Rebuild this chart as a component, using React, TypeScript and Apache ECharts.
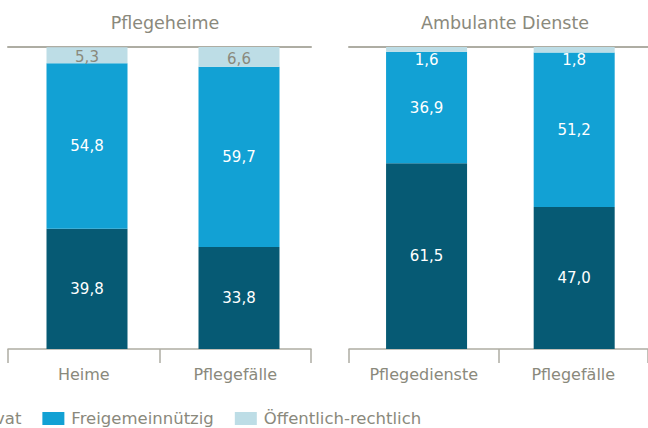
import React, { useEffect, useRef } from "react";
import * as echarts from "echarts";

const titles = ["Pflegeheime", "Ambulante Dienste"];
const categoriesHeime = ["Heime", "Pflegefälle"];
const categoriesAmbulant = ["Pflegedienste", "Pflegefälle"];
const seriesNames = ["Privat", "Freigemeinnützig", "Öffentlich-rechtlich"];
const privatHeime = [39.8, 33.8];
const freiHeime = [54.8, 59.7];
const oeffentlichHeime = [5.3, 6.6];
const privatAmbulant = [61.5, 47.0];
const freiAmbulant = [36.9, 51.2];
const oeffentlichAmbulant = [1.6, 1.8];

const DARK = "#065a74";
const MID = "#12a1d4";
const LIGHT = "#bddde6";
const TEXT = "#8a897c";
const LINE = "#aeada3";
const FONT = "DejaVu Sans";

const fmt = (p: any) => Number(p.value).toFixed(1).replace(".", ",");

export default function App() {
  const ref = useRef<HTMLDivElement>(null);
  useEffect(() => {
    document.body.style.margin = "0";
    const chart = echarts.init(ref.current!, null, { renderer: "svg" });
    const axisGrid = (gi: number, data: string[]) => [
      {
        type: "category",
        gridIndex: gi,
        data,
        position: "bottom",
        axisLine: { show: true, lineStyle: { color: LINE, width: 1.5 } },
        axisTick: { show: true, length: 14, interval: 0, lineStyle: { color: LINE, width: 1.5 } },
        axisLabel: { color: TEXT, fontSize: 16, fontFamily: FONT, margin: 17, interval: 0 },
      },
      {
        type: "category",
        gridIndex: gi,
        data,
        position: "top",
        axisLine: { show: true, lineStyle: { color: LINE, width: 2 } },
        axisTick: { show: false },
        axisLabel: { show: false },
      },
    ];
    const barAxis = (gi: number, data: string[]) => ({
      type: "category",
      gridIndex: gi,
      data,
      show: false,
    });
    const yAx = (gi: number) => ({
      type: "value",
      gridIndex: gi,
      min: 0,
      max: 100,
      show: false,
    });
    const labelBase = { show: true, fontSize: 15, fontFamily: FONT, formatter: fmt };
    const mk = (
      name: string,
      data: number[],
      color: string,
      xi: number,
      yi: number,
      stack: string,
      label: any
    ) => ({
      type: "bar",
      name,
      data,
      stack,
      xAxisIndex: xi,
      yAxisIndex: yi,
      barWidth: 81,
      itemStyle: { color },
      label: { ...labelBase, ...label },
    });
    chart.setOption({
      animation: false,
      title: [
        {
          text: titles[0],
          left: 160,
          top: 9,
          textAlign: "center",
          textStyle: { color: TEXT, fontSize: 17.5, fontWeight: "normal", fontFamily: FONT },
        },
        {
          text: titles[1],
          left: 500,
          top: 9,
          textAlign: "center",
          textStyle: { color: TEXT, fontSize: 17.5, fontWeight: "normal", fontFamily: FONT },
        },
      ],
      legend: {
        data: seriesNames,
        left: -60,
        top: 405,
        itemWidth: 22,
        itemHeight: 13,
        itemGap: 21,
        icon: "rect",
        textStyle: { color: TEXT, fontSize: 16.5, fontFamily: FONT, padding: [0, 0, 0, 2] },
      },
      grid: [
        { left: 8, top: 47, width: 303, height: 302 },
        { left: 11, top: 47, width: 304, height: 302 },
        { left: 349, top: 47, width: 302, height: 302 },
        { left: 352.75, top: 47, width: 299, height: 302 },
      ],
      xAxis: [
        ...axisGrid(0, categoriesHeime),
        barAxis(1, categoriesHeime),
        ...axisGrid(2, categoriesAmbulant),
        barAxis(3, categoriesAmbulant),
      ],
      yAxis: [yAx(0), yAx(1), yAx(2), yAx(3)],
      series: [
        mk(seriesNames[0], privatHeime, DARK, 2, 1, "h", { position: "inside", color: "#fff" }),
        mk(seriesNames[1], freiHeime, MID, 2, 1, "h", { position: "inside", color: "#fff" }),
        mk(seriesNames[2], oeffentlichHeime, LIGHT, 2, 1, "h", {
          position: "inside",
          color: TEXT,
          offset: [0, 2],
        }),
        mk(seriesNames[0], privatAmbulant, DARK, 5, 3, "a", { position: "inside", color: "#fff" }),
        mk(seriesNames[1], freiAmbulant, MID, 5, 3, "a", { position: "inside", color: "#fff" }),
        mk(seriesNames[2], oeffentlichAmbulant, LIGHT, 5, 3, "a", {
          position: "insideTop",
          color: "#fff",
        }),
      ],
    });
    return () => chart.dispose();
  }, []);
  return (
    <div
      ref={ref}
      style={{ position: "absolute", left: 0, top: 0, width: 648, height: 428 }}
    />
  );
}
